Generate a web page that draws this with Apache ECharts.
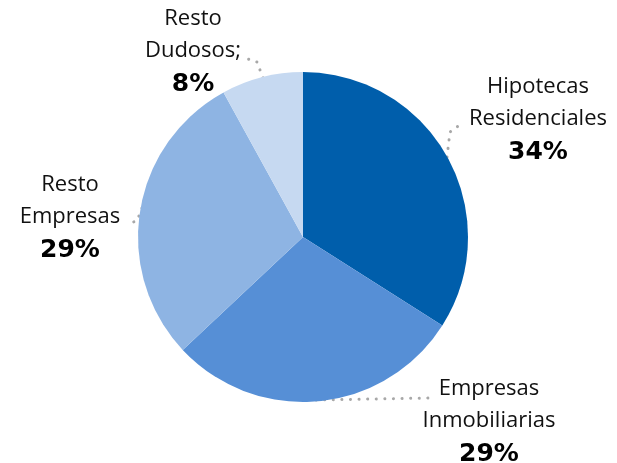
<!DOCTYPE html>
<html><head><meta charset="utf-8">
<script src="https://cdn.jsdelivr.net/npm/echarts@6/dist/echarts.min.js"></script>
<style>html,body{margin:0;padding:0;background:#fff}#c{width:617px;height:463px}</style>
</head><body><div id="c"></div>
<script>
const categories = ['Hipotecas\nResidenciales', 'Empresas\nInmobiliarias', 'Resto\nEmpresas', 'Resto\nDudosos;'];
const values = [34, 29, 29, 8];
const colors = ['#005EAB', '#568FD6', '#8EB4E3', '#C6D9F1'];

// label placement (center of text block) and leader line paths
const labelPos = [[538, 120], [489, 422], [70, 218], [193, 52]];
const linePaths = [
  [[447, 157], [450, 132], [461, 124]],
  [[316, 400], [430, 398]],
  [[142, 208], [137, 221], [126, 224]],
  [[263, 78], [257, 62], [245, 58]]
];

const chart = echarts.init(document.getElementById('c'), null, {renderer: 'canvas'});
chart.setOption({
  animation: false,
  series: [{
    type: 'pie',
    center: [303, 237],
    radius: 165,
    startAngle: 90,
    clockwise: true,
    data: categories.map((n, i) => ({name: n, value: values[i], itemStyle: {color: colors[i]}})),
    itemStyle: {borderWidth: 0},
    label: {
      show: true,
      position: 'outside',
      overflow: 'none',
      formatter: p => '{n|' + p.name + '}\n{p|' + p.value + '%}',
      align: 'center',
      rich: {
        n: {fontFamily: 'Open Sans', fontSize: 22, color: '#111', lineHeight: 32, align: 'center'},
        p: {fontFamily: 'DejaVu Sans', fontSize: 25, fontWeight: 'bold', color: '#000', lineHeight: 34, align: 'center'}
      }
    },
    labelLine: {
      show: true,
      lineStyle: {color: '#A8A8A8', width: 3, type: [0.1, 8.5], cap: 'round'}
    },
    labelLayout: function (params) {
      const i = params.dataIndex;
      return {
        x: labelPos[i][0],
        y: labelPos[i][1],
        align: 'center',
        verticalAlign: 'middle',
        labelLinePoints: linePaths[i]
      };
    }
  }]
});
</script></body></html>
